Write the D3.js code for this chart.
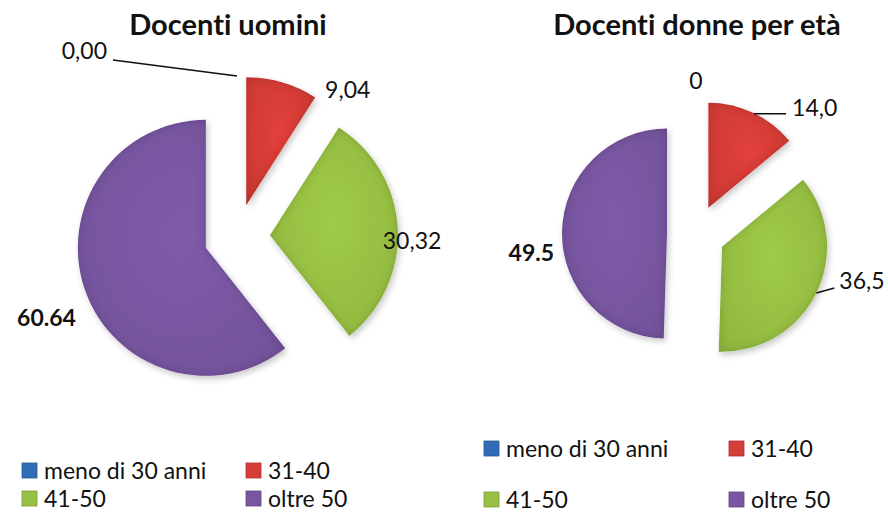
<!DOCTYPE html>
<html>
<head>
<meta charset="utf-8">
<script src="https://cdn.jsdelivr.net/npm/d3@7"></script>
<style>
  html, body { margin: 0; padding: 0; background: #fff; }
  svg { display: block; }
  text { font-family: Lato, "Open Sans", sans-serif; fill: #111; font-variant-ligatures: none; font-feature-settings: "liga" 0; }
</style>
</head>
<body>
<svg id="chart" width="888" height="513"></svg>
<script>
// ---- data ----
const categories = ["meno di 30 anni", "31-40", "41-50", "oltre 50"];
const menValues = [0, 9.04, 30.32, 60.64];
const menLabels = ["0,00", "9,04", "30,32", "60.64"];
const womenValues = [0, 14.0, 36.5, 49.5];
const womenLabels = ["0", "14,0", "36,5", "49.5"];
const titles = ["Docenti uomini", "Docenti donne per età"];
const colors = ["#2f6cb6", "#d63d38", "#98c044", "#7856a1"];

// ---- layout ----
const svg = d3.select("#chart");

const defs = svg.append("defs");
const f = defs.append("filter").attr("id", "bevel")
  .attr("x", "-20%").attr("y", "-20%").attr("width", "140%").attr("height", "140%");
f.append("feGaussianBlur").attr("in", "SourceAlpha").attr("stdDeviation", 4).attr("result", "b");
f.append("feComposite").attr("in", "SourceAlpha").attr("in2", "b").attr("operator", "arithmetic")
  .attr("k2", 1).attr("k3", -1).attr("result", "edge");
f.append("feFlood").attr("flood-color", "#000").attr("flood-opacity", 0.32).attr("result", "c");
f.append("feComposite").attr("in", "c").attr("in2", "edge").attr("operator", "in").attr("result", "shade");
f.append("feOffset").attr("in", "SourceAlpha").attr("dx", 2).attr("dy", 3).attr("result", "o");
f.append("feGaussianBlur").attr("in", "o").attr("stdDeviation", 3).attr("result", "ds");
f.append("feFlood").attr("flood-color", "#000").attr("flood-opacity", 0.22).attr("result", "c2");
f.append("feComposite").attr("in", "c2").attr("in2", "ds").attr("operator", "in").attr("result", "shadow");
const fm = f.append("feMerge");
fm.append("feMergeNode").attr("in", "shadow");
fm.append("feMergeNode").attr("in", "SourceGraphic");
fm.append("feMergeNode").attr("in", "shade");

colors.forEach((c, i) => {
  const g = defs.append("radialGradient").attr("id", "grad" + i)
    .attr("gradientUnits", "objectBoundingBox").attr("cx", "50%").attr("cy", "45%").attr("r", "70%");
  g.append("stop").attr("offset", "0%").attr("stop-color", d3.color(c).brighter(0.15));
  g.append("stop").attr("offset", "100%").attr("stop-color", d3.color(c).darker(0.15));
});

const color = d3.scaleOrdinal().domain(categories).range(colors);

const pies = [
  {
    values: menValues, labels: menLabels, title: titles[0],
    cx: 237, cy: 237, r: 128, explode: 33, titleX: 228, titleY: 35,
    lab: [
      { dx: -130, dy: -17, anchor: "end", bold: false, leader: [[-124, -16], [0, 0]] },
      { dx: 43, dy: 16, anchor: "start", bold: false },
      { dx: -15, dy: 20, anchor: "start", bold: false },
      { dx: -9, dy: 36, anchor: "end", bold: true }
    ],
    legend: { x1: 22, x2: 246, y1: 479, y2: 507 }
  },
  {
    values: womenValues, labels: womenLabels, title: titles[1],
    cx: 696, cy: 234, r: 105, explode: 29, titleX: 697, titleY: 35,
    lab: [
      { dx: 0, dy: -11, anchor: "middle", bold: false },
      { dx: 39, dy: 3, anchor: "start", bold: false, leader: [[1, 1], [33, 1]] },
      { dx: 23, dy: -4, anchor: "start", bold: false, leader: [[0, 0], [18, -5]] },
      { dx: -8, dy: 29, anchor: "end", bold: true }
    ],
    legend: { x1: 484, x2: 729, y1: 457, y2: 508 }
  }
];

const pieGen = d3.pie().sort(null).value(d => d.v).startAngle(0).endAngle(2 * Math.PI);

pies.forEach(p => {
  const data = categories.map((c, i) => ({ cat: c, v: p.values[i], label: p.labels[i], i }));
  const arcs = pieGen(data);
  const arc = d3.arc().innerRadius(0).outerRadius(p.r);
  const g = svg.append("g").attr("transform", `translate(${p.cx},${p.cy})`);

  const off = a => {
    const m = (a.startAngle + a.endAngle) / 2;
    return [Math.sin(m) * p.explode, -Math.cos(m) * p.explode];
  };
  const outerMid = a => {
    const m = (a.startAngle + a.endAngle) / 2;
    const o = off(a);
    return [o[0] + Math.sin(m) * p.r, o[1] - Math.cos(m) * p.r];
  };

  g.selectAll("path.slice").data(arcs.filter(a => a.data.v > 0)).join("path")
    .attr("class", "slice")
    .attr("transform", a => `translate(${off(a)})`)
    .attr("d", arc)
    .attr("fill", a => `url(#grad${a.data.i})`)
    .attr("filter", "url(#bevel)");

  arcs.forEach((a, i) => {
    const L = p.lab[i];
    const om = outerMid(a);
    if (L.leader) {
      g.append("line")
        .attr("x1", om[0] + L.leader[0][0]).attr("y1", om[1] + L.leader[0][1])
        .attr("x2", om[0] + L.leader[1][0]).attr("y2", om[1] + L.leader[1][1])
        .attr("stroke", "#111").attr("stroke-width", 1.5);
    }
    g.append("text")
      .attr("x", om[0] + L.dx).attr("y", om[1] + L.dy)
      .attr("text-anchor", L.anchor)
      .attr("font-size", 23)
      .attr("font-weight", L.bold ? 700 : 400)
      .text(a.data.label);
  });

  svg.append("text").attr("x", p.titleX).attr("y", p.titleY)
    .attr("text-anchor", "middle").attr("font-size", 29).attr("font-weight", 700)
    .text(p.title);

  const lg = p.legend;
  const pos = [[lg.x1, lg.y1], [lg.x2, lg.y1], [lg.x1, lg.y2], [lg.x2, lg.y2]];
  categories.forEach((c, i) => {
    const [x, y] = pos[i];
    svg.append("rect").attr("x", x).attr("y", y - 16).attr("width", 15).attr("height", 15)
      .attr("fill", color(c)).attr("stroke", d3.color(color(c)).darker(0.6)).attr("stroke-width", 0.8);
    svg.append("text").attr("x", x + 22).attr("y", y).attr("font-size", 23).text(c);
  });
});
</script>
</body>
</html>
